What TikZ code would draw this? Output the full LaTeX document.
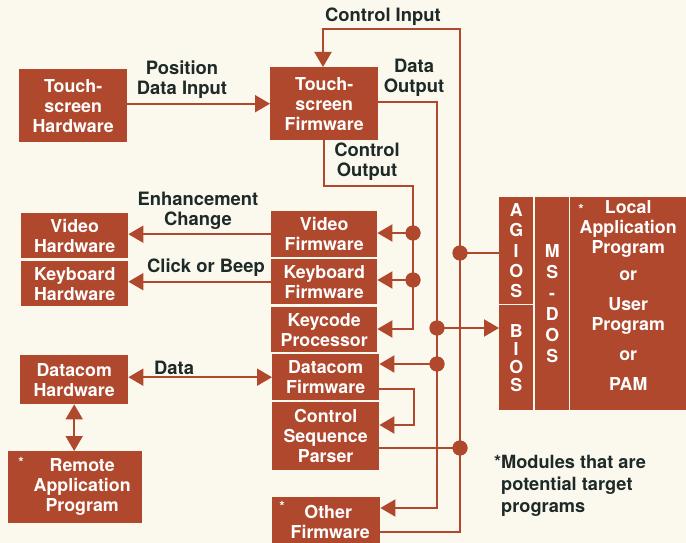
\documentclass[tikz,border=0pt]{standalone}
\usepackage{fontspec}
\setmainfont{TeX Gyre Heros}
\usetikzlibrary{arrows.meta,calc}
\definecolor{brick}{RGB}{176,72,45}
\definecolor{paper}{RGB}{251,248,238}
\definecolor{ink}{RGB}{30,42,40}
\begin{document}
\begin{tikzpicture}[x=1pt,y=-1pt,
  box/.style={fill=brick, text=white, font=\bfseries\fontsize{17.8}{20}\selectfont,
    align=center, inner sep=0pt, anchor=north west},
  lbl/.style={text=ink, font=\bfseries\fontsize{18.4}{20}\selectfont, align=center, inner sep=0pt},
  wire/.style={draw=brick, line width=2pt},
  arr/.style={wire, -{Triangle[length=15pt,width=17pt]}},
  dbl/.style={wire, {Triangle[length=15pt,width=17pt]}-{Triangle[length=15pt,width=17pt]}},
  dot/.style={circle, fill=brick, minimum size=15pt, inner sep=0pt},
  astr/.style={text=white, font=\bfseries\fontsize{14}{14}\selectfont, inner sep=0pt}
]
\fill[paper] (0,0) rectangle (686,543);
\useasboundingbox (0,0) rectangle (686,543);

% boxes
\node[box, minimum width=108pt, minimum height=73pt] (tsh) at (19,69) {Touch-\\screen\\Hardware};
\node[box, minimum width=108pt, minimum height=73pt] (tsf) at (270,67) {Touch-\\screen\\Firmware};
\node[box, minimum width=107pt, minimum height=45pt] (vh) at (21,213) {Video\\Hardware};
\node[box, minimum width=107pt, minimum height=45pt] (kh) at (21,261) {Keyboard\\Hardware};
\node[box, minimum width=106pt, minimum height=46pt] (vf) at (271,211) {Video\\Firmware};
\node[box, minimum width=106pt, minimum height=45pt] (kf) at (271,259) {Keyboard\\Firmware};
\node[box, minimum width=106pt, minimum height=45pt] (kp) at (271,307) {Keycode\\Processor};
\node[box, minimum width=107pt, minimum height=46pt] (df) at (272,354) {Datacom\\Firmware};
\node[box, minimum width=107pt, minimum height=68pt] (csp) at (272,402) {Control\\Sequence\\Parser};
\node[box, minimum width=108pt, minimum height=50pt] (of) at (272,497) {\hspace*{4pt}Other\\\hspace*{8pt}Firmware};
\node[box, minimum width=108pt, minimum height=49pt] (dh) at (20,355) {Datacom\\Hardware};
\node[box, minimum width=134pt, minimum height=72pt] (rap) at (8,451) {\hspace*{14pt}Remote\\\hspace*{14pt}Application\\\hspace*{14pt}Program};
\node[box, minimum width=34pt, minimum height=107pt, font=\bfseries\fontsize{17.8}{20.3}\selectfont] (agios) at (499,197) {A\\G\\I\\O\\S};
\node[box, minimum width=34pt, minimum height=105pt, font=\bfseries\fontsize{17.8}{18}\selectfont] (bios) at (499,305) {B\\I\\O\\S};
\node[box, minimum width=34pt, minimum height=213pt, font=\bfseries\fontsize{17.8}{21}\selectfont] (msdos) at (535,197) {M\\S\\-\\D\\O\\S};
\node[box, minimum width=116pt, minimum height=213pt] (local) at (570,197) {Local\\Application\\Program\\[7pt]or\\[10pt]User\\Program\\[10pt]or\\[10pt]PAM\\[-4pt]~};

% asterisks in boxes
\node[astr] (s1) at (581,209) {*};
\node[astr] (s2) at (21,462) {*};
\node[astr] (s3) at (282,506) {*};

% labels
\node[lbl] (lci) at (383,17) {Control Input};
\node[lbl] (ldo) at (414,78) {Data\\Output};
\node[lbl] (lco) at (367,162) {Control\\Output};
\node[lbl] (lpd) at (182,80) {Position\\Data Input};
\node[lbl] (lec) at (198,211) {Enhancement\\Change};
\node[lbl] (lcb) at (206,268) {Click or Beep};
\node[lbl] (lda) at (174,368) {Data};
\node[lbl, anchor=north west, align=left, font=\bfseries\fontsize{18.2}{22}\selectfont] (note) at (501,455)
  {\llap{*}Modules that are\\potential target\\programs};

% bus coordinates
\coordinate (ci1) at (323,29);
\coordinate (ci2) at (460,29);
\coordinate (ofo) at (460,532);
\coordinate (do1) at (437,102);
\coordinate (do2) at (437,508);
\coordinate (co0) at (324,186);
\coordinate (co1) at (413,329);
\coordinate (dc1) at (414,389);
\coordinate (dc2) at (414,425);

% dots
\node[dot] (dA) at (460,253) {};
\node[dot] (dC) at (460,448) {};
\node[dot] (dB) at (437,328) {};
\node[dot] (dD) at (437,364) {};
\node[dot] (dV) at (413,233) {};
\node[dot] (dK) at (413,280) {};

% connectors
\draw[arr] (tsh.east |- tsf.west) -- (tsf.west);
\draw[arr] (of.east |- ofo) -- (ofo) -- (ci2) -- (ci1) -- (ci1 |- tsf.north);
\draw[wire] (dA.center) -- (agios.west |- dA);
\draw[wire] (csp.east |- dC) -- (dC.center);
\draw[arr] (tsf.east |- do1) -- (do1) -- (do2) -- (of.east |- do2);
\draw[arr] (dB.center) -- (bios.west |- dB);
\draw[arr] (dD.center) -- (df.east |- dD);
\draw[arr] (co0 |- tsf.south) -- (co0) -- (co0 -| co1) -- (co1) -- (kp.east |- co1);
\draw[arr] (dV.center) -- (vf.east |- dV);
\draw[arr] (dK.center) -- (kf.east |- dK);
\draw[arr] (vf.west) -- (vh.east |- vf.west);
\draw[arr] (kf.west) -- (kh.east |- kf.west);
\draw[dbl] (dh.east |- df.west) -- (df.west);
\draw[dbl] (dh.south) -- (dh.south |- rap.north);
\draw[arr] (df.east |- dc1) -- (dc1) -- (dc2) -- (csp.east |- dc2);

% redraw dots on top
\node[dot] at (dA) {};
\node[dot] at (dC) {};
\node[dot] at (dB) {};
\node[dot] at (dD) {};
\node[dot] at (dV) {};
\node[dot] at (dK) {};
\end{tikzpicture}
\end{document}
